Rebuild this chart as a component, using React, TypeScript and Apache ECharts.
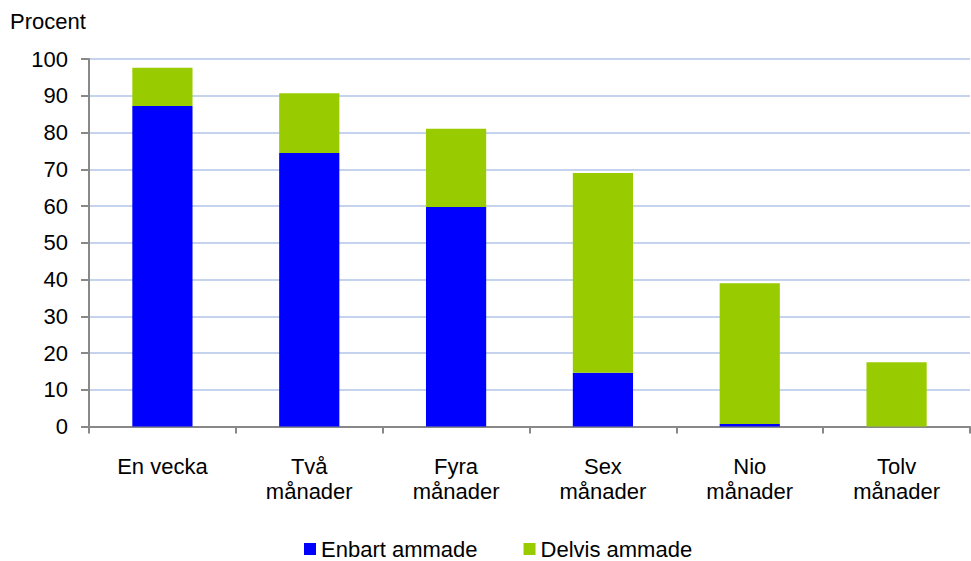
import React, { useEffect, useRef } from "react";
import * as echarts from "echarts";

const categories = ["En vecka", "Två\nmånader", "Fyra\nmånader", "Sex\nmånader", "Nio\nmånader", "Tolv\nmånader"];
const enbart = [87.2, 74.4, 59.7, 14.6, 0.7, 0];
const delvis = [10.4, 16.3, 21.3, 54.4, 38.3, 17.5];
const yTicks = [0, 10, 20, 30, 40, 50, 60, 70, 80, 90, 100];
const seriesNames = ["Enbart ammade", "Delvis ammade"];
const colors = ["#0000ff", "#99cc00"];

export default function App() {
  const ref = useRef<HTMLDivElement>(null);
  useEffect(() => {
    if (!ref.current) return;
    const chart = echarts.init(ref.current, undefined, { renderer: "svg" });
    const font = "'Liberation Sans', Arial, sans-serif";
    chart.setOption({
      animation: false,
      textStyle: { fontFamily: font },
      graphic: [
        {
          type: "text",
          left: 10,
          top: 10,
          style: { text: "Procent", font: `22px ${font}`, fill: "#000" },
        },
      ],
      legend: {
        data: seriesNames,
        left: 304,
        top: 538,
        padding: 0,
        itemWidth: 12,
        itemHeight: 12,
        itemGap: 46,
        icon: "rect",
        textStyle: { fontSize: 22, color: "#000", fontFamily: font, lineHeight: 22 },
      },
      grid: { left: 89, top: 59, right: 1, bottom: 134.5, containLabel: false },
      xAxis: {
        type: "category",
        data: categories,
        axisLine: { lineStyle: { color: "#888888", width: 2 } },
        axisTick: { show: true, length: 7, lineStyle: { color: "#888888", width: 2 } },
        axisLabel: { fontSize: 22, color: "#000", margin: 27, lineHeight: 25, fontFamily: font },
      },
      yAxis: {
        type: "value",
        min: 0,
        max: 100,
        interval: 10,
        axisLine: { show: true, lineStyle: { color: "#888888", width: 2 } },
        axisTick: { show: true, length: 8, lineStyle: { color: "#888888", width: 2 } },
        axisLabel: {
          fontSize: 22,
          color: "#000",
          margin: 21,
          fontFamily: font,
          formatter: (v: number) => (yTicks.includes(v) ? String(v) : ""),
        },
        splitLine: { show: true, lineStyle: { color: "#c5d3ee", width: 2 } },
      },
      series: [
        {
          name: seriesNames[0],
          type: "bar",
          stack: "a",
          data: enbart,
          barWidth: "41%",
          itemStyle: { color: colors[0] },
        },
        {
          name: seriesNames[1],
          type: "bar",
          stack: "a",
          data: delvis,
          barWidth: "41%",
          itemStyle: { color: colors[1] },
        },
      ],
    });
    return () => chart.dispose();
  }, []);
  return (
    <div
      ref={ref}
      style={{ position: "fixed", left: 0, top: 0, width: 971, height: 561, background: "#fff" }}
    />
  );
}
